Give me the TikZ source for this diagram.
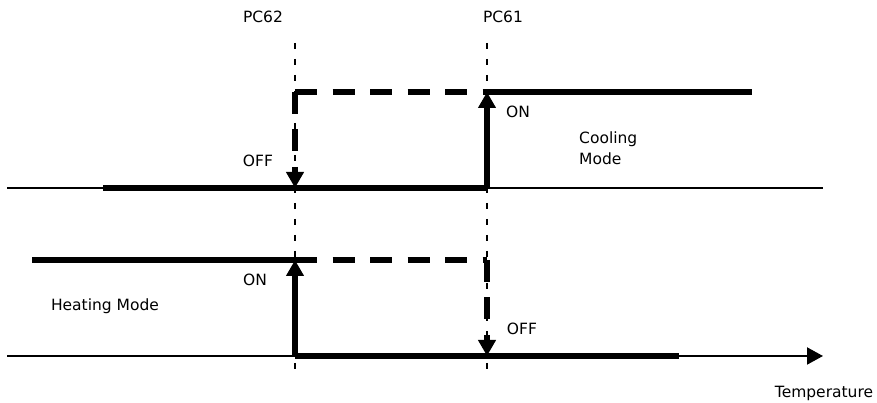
\documentclass[tikz,border=0pt]{standalone}
\usepackage{fontspec}
\setmainfont{DejaVu Sans}
\usetikzlibrary{arrows.meta}

\tikzset{
  guide/.style={line width=1.2pt, dash pattern=on 6pt off 10pt},
  axisline/.style={line width=2pt},
  level/.style={line width=5.5pt},
  leveldash/.style={line width=5.5pt, dash pattern=on 22pt off 15.5pt},
  hit/.style={-{Triangle[width=17pt,length=16pt]}},
  lbl/.style={inner sep=0pt, text=black, font=\fontsize{15.5}{21.5}\selectfont},
}

\begin{document}
\begin{tikzpicture}[x=1pt, y=1pt]
  \useasboundingbox (0,0) rectangle (877,403);
  % set points
  \coordinate (lowtop) at (295,360);  \coordinate (lowbot) at (295,29);
  \coordinate (hightop) at (487,360); \coordinate (highbot) at (487,29);
  \node[lbl] (pclow) at (263,386) {PC62};
  \node[lbl] (pchigh) at (503,386) {PC61};
  \draw[guide] (lowtop) -- (lowbot);
  \draw[guide] (hightop) -- (highbot);
  % cooling
  \coordinate (cstart) at (7,215);   \coordinate (cend) at (823,215);
  \coordinate (coffA) at (103,215);  \coordinate (coffB) at (295,215);
  \coordinate (conA) at (487,215);   \coordinate (conB) at (487,311);
  \coordinate (ccorner) at (295,311); \coordinate (cstop) at (752,311);
  \draw[axisline] (cstart) -- (cend);
  \draw[level] (coffA) -- (conA);
  \draw[level, hit] (conA) -- (conB);
  \draw[level] (conB) -- (cstop);
  \draw[leveldash] (ccorner) -- (conB);
  \draw[leveldash, hit] (ccorner) -- (coffB);
  \node[lbl] (coff) at (258,242) {OFF};
  \node[lbl] (con) at (518,291) {ON};
  \node[lbl, align=left, anchor=west] (cmode) at (579,255) {Cooling\\Mode};
  % heating
  \coordinate (hstart) at (7,47);    \coordinate (hend) at (823,47);
  \coordinate (honA) at (32,143);    \coordinate (honB) at (295,143);
  \coordinate (hlow) at (295,47);    \coordinate (hcorner) at (487,143);
  \coordinate (hoffB) at (487,47);   \coordinate (hstop) at (679,47);
  \draw[axisline, hit] (hstart) -- (hend);
  \draw[level] (honA) -- (honB);
  \draw[level, hit] (hlow) -- (honB);
  \draw[level] (hlow) -- (hstop);
  \draw[leveldash] (honB) -- (hcorner);
  \draw[leveldash, hit] (hcorner) -- (hoffB);
  \node[lbl] (hon) at (255,123) {ON};
  \node[lbl] (hoff) at (522,74) {OFF};
  \node[lbl] (hmode) at (105,97) {Heating Mode};
  \node[lbl] (temp) at (824,10) {Temperature};
\end{tikzpicture}
\end{document}
